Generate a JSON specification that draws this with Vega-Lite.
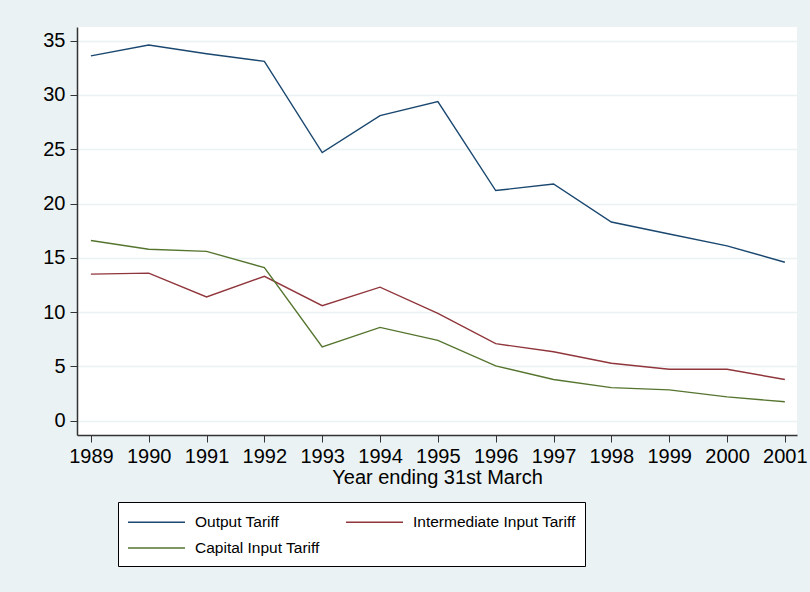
{
  "$schema": "https://vega.github.io/schema/vega-lite/v6.json",
  "autosize": {"type": "none"},
  "padding": {"left": 77, "top": 27, "right": 13, "bottom": 157},
  "width": 720,
  "height": 408,
  "background": "#EAF2F3",
  "config": {
    "view": {"fill": "white", "stroke": null},
    "font": "Liberation Sans"
  },
  "data": {
    "values": [
      {"year": 1989, "series": "Output Tariff", "value": 33.6},
      {"year": 1990, "series": "Output Tariff", "value": 34.6},
      {"year": 1991, "series": "Output Tariff", "value": 33.8},
      {"year": 1992, "series": "Output Tariff", "value": 33.1},
      {"year": 1993, "series": "Output Tariff", "value": 24.7},
      {"year": 1994, "series": "Output Tariff", "value": 28.1},
      {"year": 1995, "series": "Output Tariff", "value": 29.4},
      {"year": 1996, "series": "Output Tariff", "value": 21.2},
      {"year": 1997, "series": "Output Tariff", "value": 21.8},
      {"year": 1998, "series": "Output Tariff", "value": 18.3},
      {"year": 1999, "series": "Output Tariff", "value": 17.2},
      {"year": 2000, "series": "Output Tariff", "value": 16.1},
      {"year": 2001, "series": "Output Tariff", "value": 14.6},
      {"year": 1989, "series": "Intermediate Input Tariff", "value": 13.5},
      {"year": 1990, "series": "Intermediate Input Tariff", "value": 13.6},
      {"year": 1991, "series": "Intermediate Input Tariff", "value": 11.4},
      {"year": 1992, "series": "Intermediate Input Tariff", "value": 13.3},
      {"year": 1993, "series": "Intermediate Input Tariff", "value": 10.6},
      {"year": 1994, "series": "Intermediate Input Tariff", "value": 12.3},
      {"year": 1995, "series": "Intermediate Input Tariff", "value": 9.9},
      {"year": 1996, "series": "Intermediate Input Tariff", "value": 7.1},
      {"year": 1997, "series": "Intermediate Input Tariff", "value": 6.35},
      {"year": 1998, "series": "Intermediate Input Tariff", "value": 5.3},
      {"year": 1999, "series": "Intermediate Input Tariff", "value": 4.75},
      {"year": 2000, "series": "Intermediate Input Tariff", "value": 4.75},
      {"year": 2001, "series": "Intermediate Input Tariff", "value": 3.8},
      {"year": 1989, "series": "Capital Input Tariff", "value": 16.6},
      {"year": 1990, "series": "Capital Input Tariff", "value": 15.8},
      {"year": 1991, "series": "Capital Input Tariff", "value": 15.6},
      {"year": 1992, "series": "Capital Input Tariff", "value": 14.1},
      {"year": 1993, "series": "Capital Input Tariff", "value": 6.8},
      {"year": 1994, "series": "Capital Input Tariff", "value": 8.6},
      {"year": 1995, "series": "Capital Input Tariff", "value": 7.4},
      {"year": 1996, "series": "Capital Input Tariff", "value": 5.05},
      {"year": 1997, "series": "Capital Input Tariff", "value": 3.8},
      {"year": 1998, "series": "Capital Input Tariff", "value": 3.05},
      {"year": 1999, "series": "Capital Input Tariff", "value": 2.85},
      {"year": 2000, "series": "Capital Input Tariff", "value": 2.2},
      {"year": 2001, "series": "Capital Input Tariff", "value": 1.75}
    ]
  },
  "mark": {"type": "line", "strokeWidth": 1.4},
  "encoding": {
    "x": {
      "field": "year",
      "type": "quantitative",
      "scale": {"domain": [1988.76, 2001.21], "nice": false, "zero": false},
      "axis": {
        "values": [1989, 1990, 1991, 1992, 1993, 1994, 1995, 1996, 1997, 1998, 1999, 2000, 2001],
        "format": "d",
        "title": "Year ending 31st March",
        "titleFontSize": 20,
        "titleFontWeight": "normal",
        "titleColor": "#000",
        "titlePadding": 1,
        "labelFontSize": 20,
        "labelColor": "#000",
        "labelPadding": 4,
        "labelFlush": false,
        "labelOverlap": false,
        "tickColor": "#333",
        "tickSize": 7,
        "domainColor": "#333",
        "domainWidth": 1.5,
        "grid": false
      }
    },
    "y": {
      "field": "value",
      "type": "quantitative",
      "scale": {"domain": [-1.31, 36.26], "nice": false, "zero": false},
      "axis": {
        "values": [0, 5, 10, 15, 20, 25, 30, 35],
        "title": null,
        "labelFontSize": 20,
        "labelColor": "#000",
        "labelPadding": 5,
        "labelFlush": false,
        "tickColor": "#333",
        "tickSize": 7,
        "domainColor": "#333",
        "domainWidth": 1.5,
        "grid": true,
        "gridColor": "#EAF2F3",
        "gridWidth": 1.5
      }
    },
    "color": {
      "field": "series",
      "type": "nominal",
      "sort": ["Output Tariff", "Intermediate Input Tariff", "Capital Input Tariff"],
      "scale": {
        "domain": ["Output Tariff", "Intermediate Input Tariff", "Capital Input Tariff"],
        "range": ["#1A476F", "#90353B", "#55752F"]
      },
      "legend": {
        "title": null,
        "orient": "none",
        "legendX": 41,
        "legendY": 475,
        "direction": "horizontal",
        "columns": 2,
        "columnPadding": 23,
        "rowPadding": 6,
        "padding": 9,
        "fillColor": "white",
        "strokeColor": "#000",
        "symbolType": "M-1,0H4.7",
        "symbolSize": 400,
        "symbolStrokeWidth": 1.5,
        "labelFontSize": 15.5,
        "labelColor": "#000",
        "labelOffset": 46,
        "labelLimit": 400
      }
    }
  }
}
